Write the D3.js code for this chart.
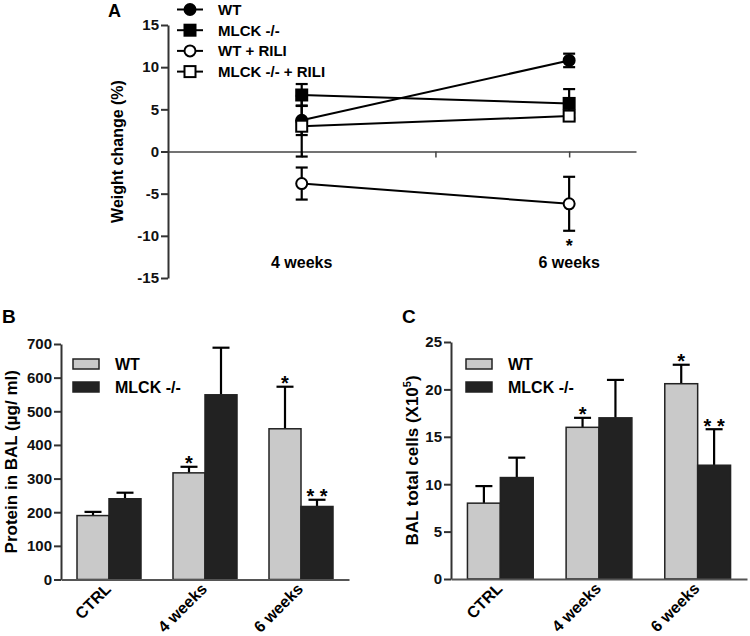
<!DOCTYPE html>
<html>
<head>
<meta charset="utf-8">
<script src="https://cdn.jsdelivr.net/npm/d3@7"></script>
<style>
  body { margin: 0; background: #fff; }
  svg { font-family: Arial, "Liberation Sans", sans-serif; font-weight: bold; }
  .axis path, .axis line { stroke: #333; stroke-width: 2px; }
  .axis text { font-size: 15px; font-weight: bold; fill: #111; font-family: Arial, "Liberation Sans", sans-serif; }
</style>
</head>
<body>
<div id="chart"></div>
<script>
// panel A - weight change
const weeks = [4, 6]
const weekLabels = ['4 weeks', '6 weeks']
const weightTicks = [-15, -10, -5, 0, 5, 10, 15]
const seriesA = ['WT', 'MLCK -/-', 'WT + RILI', 'MLCK -/- + RILI']
const wtWeight = [3.7, 10.8]
const wtWeightErr = [1.75, 0.8]
const mlckWeight = [6.7, 5.7]
const mlckWeightErr = [1.3, 1.7]
const wtRiliWeight = [-3.8, -6.2]
const wtRiliWeightErr = [1.9, 3.2]
const mlckRiliWeight = [3.0, 4.2]
const mlckRiliWeightErr = [3.6, 0.4]
const weightStars = ['', '', '', '*']  // only WT + RILI at 6 weeks

// panels B and C
const barGroups = ['CTRL', '4 weeks', '6 weeks']
const barSeries = ['WT', 'MLCK -/-']
const proteinTicks = [0, 100, 200, 300, 400, 500, 600, 700]
const wtProtein = [190, 317, 448]
const wtProteinErr = [11, 18, 125]
const mlckProtein = [240, 549, 217]
const mlckProteinErr = [18, 140, 20]
const wtProteinStars = ['', '*', '*']
const mlckProteinStars = ['', '', '* *']
const cellTicks = [0, 5, 10, 15, 20, 25]
const wtCells = [8.0, 16.0, 20.6]
const wtCellsErr = [1.8, 1.0, 2.0]
const mlckCells = [10.7, 17.0, 12.0]
const mlckCellsErr = [2.1, 4.0, 3.8]
const wtCellsStars = ['', '*', '*']
const mlckCellsStars = ['', '', '* *']

const svg = d3.select('#chart').append('svg')
  .attr('width', 750)
  .attr('height', 636)

// ---------- A ----------
const xA = d3.scaleLinear().domain([3, 6.5]).range([168, 636])
const yA = d3.scaleLinear().domain([-15, 15]).range([278, 25])

svg.append('text').attr('x', 108).attr('y', 17).attr('font-size', 18).text('A')

svg.append('g').attr('class', 'axis')
  .attr('transform', `translate(${xA(3)},0)`)
  .call(d3.axisLeft(yA).tickValues(weightTicks).tickFormat(d => String(d))
    .tickSize(7).tickPadding(2).tickSizeOuter(0))

svg.append('g').attr('class', 'axis')
  .attr('transform', `translate(0,${yA(0)})`)
  .call(d3.axisBottom(xA).tickValues([4, 5, 6]).tickSize(6).tickFormat('').tickSizeOuter(0))
  .call(g => g.selectAll('path, line').style('stroke', '#444').style('stroke-width', '1.5px'))

svg.append('text')
  .attr('transform', `translate(123,${yA(0)}) rotate(-90)`)
  .attr('text-anchor', 'middle').attr('font-size', 16)
  .text('Weight change (%)')

svg.selectAll('.weekLabel').data(weeks).enter().append('text')
  .attr('x', d => xA(d)).attr('y', 268)
  .attr('text-anchor', 'middle').attr('font-size', 16)
  .text((d, i) => weekLabels[i])

const seriesData = [
  { name: seriesA[0], vals: wtWeight, err: wtWeightErr, shape: 'circle', fill: '#000' },
  { name: seriesA[1], vals: mlckWeight, err: mlckWeightErr, shape: 'square', fill: '#000' },
  { name: seriesA[2], vals: wtRiliWeight, err: wtRiliWeightErr, shape: 'circle', fill: '#fff' },
  { name: seriesA[3], vals: mlckRiliWeight, err: mlckRiliWeightErr, shape: 'square', fill: '#fff' }
]

const line = d3.line().x((d, i) => xA(weeks[i])).y(d => yA(d))

function marker(g, s, x, y) {
  if (s.shape === 'circle') {
    g.append('circle').attr('cx', x).attr('cy', y).attr('r', 5.5)
      .attr('fill', s.fill).attr('stroke', '#000').attr('stroke-width', 2)
  } else {
    g.append('rect').attr('x', x - 5.5).attr('y', y - 5.5).attr('width', 11).attr('height', 11)
      .attr('fill', s.fill).attr('stroke', '#000').attr('stroke-width', 2)
  }
}

const plotA = svg.append('g')
seriesData.forEach(s => {
  plotA.append('path').attr('d', line(s.vals)).attr('fill', 'none')
    .attr('stroke', '#000').attr('stroke-width', 2)
})
seriesData.forEach(s => {
  s.vals.forEach((v, i) => {
    const x = xA(weeks[i])
    const lo = yA(v - s.err[i]), hi = yA(v + s.err[i])
    plotA.append('line').attr('x1', x).attr('x2', x).attr('y1', lo).attr('y2', hi)
      .attr('stroke', '#000').attr('stroke-width', 2.2)
    ;[lo, hi].forEach(yy => plotA.append('line').attr('x1', x - 6).attr('x2', x + 6)
      .attr('y1', yy).attr('y2', yy).attr('stroke', '#000').attr('stroke-width', 2.2))
  })
})
seriesData.forEach(s => {
  s.vals.forEach((v, i) => marker(plotA, s, xA(weeks[i]), yA(v)))
})

// star under WT + RILI at 6 weeks
svg.append('text')
  .attr('x', xA(weeks[1])).attr('y', yA(wtRiliWeight[1] - wtRiliWeightErr[1]) + 21)
  .attr('text-anchor', 'middle').attr('font-size', 18).text(weightStars[3])

// legend A
seriesData.forEach((s, i) => {
  const y = 9.5 + i * 20.7
  const g = svg.append('g')
  g.append('line').attr('x1', 177).attr('x2', 203).attr('y1', y).attr('y2', y)
    .attr('stroke', '#000').attr('stroke-width', 2)
  marker(g, s, 190, y)
  g.append('text').attr('x', 218).attr('y', y + 5.5).attr('font-size', 15).text(s.name)
})

// ---------- B and C ----------
function barPanel(opts) {
  const x = d3.scaleBand().domain(barGroups).range(opts.xRange)
    .paddingInner(1 / 3).paddingOuter(1 / 6)
  const xi = d3.scaleBand().domain(barSeries).range([0, x.bandwidth()])
  const y = d3.scaleLinear().domain(opts.domain).range(opts.yRange)
  const colors = ['#c9c9c9', '#222']

  svg.append('text').attr('x', opts.labelX).attr('y', 323).attr('font-size', 19).text(opts.letter)

  const vals = [opts.wt, opts.mlck]
  const errs = [opts.wtErr, opts.mlckErr]
  const stars = [opts.wtStars, opts.mlckStars]

  barSeries.forEach((s, si) => {
    const g = svg.append('g')
    const cx = d => x(d) + xi(s) + xi.bandwidth() / 2
    // error bars (upper only)
    g.selectAll('.err').data(barGroups).enter().append('line')
      .attr('x1', cx).attr('x2', cx)
      .attr('y1', (d, i) => y(vals[si][i]))
      .attr('y2', (d, i) => y(vals[si][i] + errs[si][i]))
      .attr('stroke', '#000').attr('stroke-width', 2.2)
    g.selectAll('.cap').data(barGroups).enter().append('line')
      .attr('x1', d => cx(d) - 8.5)
      .attr('x2', d => cx(d) + 8.5)
      .attr('y1', (d, i) => y(vals[si][i] + errs[si][i]))
      .attr('y2', (d, i) => y(vals[si][i] + errs[si][i]))
      .attr('stroke', '#000').attr('stroke-width', 2.2)
    g.selectAll('rect').data(barGroups).enter().append('rect')
      .attr('x', d => x(d) + xi(s))
      .attr('y', (d, i) => y(vals[si][i]))
      .attr('width', xi.bandwidth())
      .attr('height', (d, i) => y(0) - y(vals[si][i]))
      .attr('fill', colors[si]).attr('stroke', '#222').attr('stroke-width', 1.5)
    g.selectAll('.star').data(barGroups).enter().append('text')
      .attr('x', cx)
      .attr('y', (d, i) => y(vals[si][i] + errs[si][i]) + 3.5)
      .attr('text-anchor', 'middle').attr('font-size', 20)
      .text((d, i) => stars[si][i])
  })

  svg.append('g').attr('class', 'axis')
    .attr('transform', `translate(${opts.xRange[0]},0)`)
    .call(d3.axisLeft(y).tickValues(opts.ticks).tickSize(7).tickPadding(2).tickSizeOuter(0))

  svg.append('g').attr('class', 'axis')
    .attr('transform', `translate(0,${y(0)})`)
    .call(d3.axisBottom(x).tickSize(0).tickFormat('').tickSizeOuter(0))
    .call(g => g.select('path').style('stroke', '#555'))

  svg.selectAll('.xl' + opts.letter).data(barGroups).enter().append('text')
    .attr('transform', d => `translate(${x(d) + x.bandwidth() / 2 + 3},${y(0) + 10.5}) rotate(-45)`)
    .attr('text-anchor', 'end').attr('font-size', 16)
    .text(d => d)

  const yt = svg.append('text')
    .attr('transform', `translate(${opts.titleX},${(opts.yRange[0] + opts.yRange[1]) / 2}) rotate(-90)`)
    .attr('text-anchor', 'middle').attr('font-size', 17)
  opts.title(yt)

  // legend
  barSeries.forEach((s, i) => {
    const ly = 359 + i * 23
    svg.append('rect').attr('x', opts.legendX).attr('y', ly).attr('width', 26).attr('height', 10)
      .attr('fill', colors[i]).attr('stroke', '#222').attr('stroke-width', 1.5)
    svg.append('text').attr('x', opts.legendX + 42).attr('y', ly + 11)
      .attr('font-size', 16).text(s)
  })
}

barPanel({
  letter: 'B', labelX: 2, xRange: [61, 349], yRange: [579.5, 344], domain: [0, 700],
  ticks: proteinTicks, wt: wtProtein, wtErr: wtProteinErr, mlck: mlckProtein, mlckErr: mlckProteinErr,
  wtStars: wtProteinStars, mlckStars: mlckProteinStars, legendX: 73, titleX: 17,
  title: t => t.text('Protein in BAL (µg/ ml)')
})

barPanel({
  letter: 'C', labelX: 402, xRange: [451, 747], yRange: [579, 342], domain: [0, 25],
  ticks: cellTicks, wt: wtCells, wtErr: wtCellsErr, mlck: mlckCells, mlckErr: mlckCellsErr,
  wtStars: wtCellsStars, mlckStars: mlckCellsStars, legendX: 466, titleX: 418,
  title: t => {
    t.append('tspan').text('BAL total cells (X10')
    t.append('tspan').attr('font-size', 11).attr('dy', '-0.6em').text('5')
    t.append('tspan').attr('dy', '0.4em').text(')')
  }
})
</script>
</body>
</html>
